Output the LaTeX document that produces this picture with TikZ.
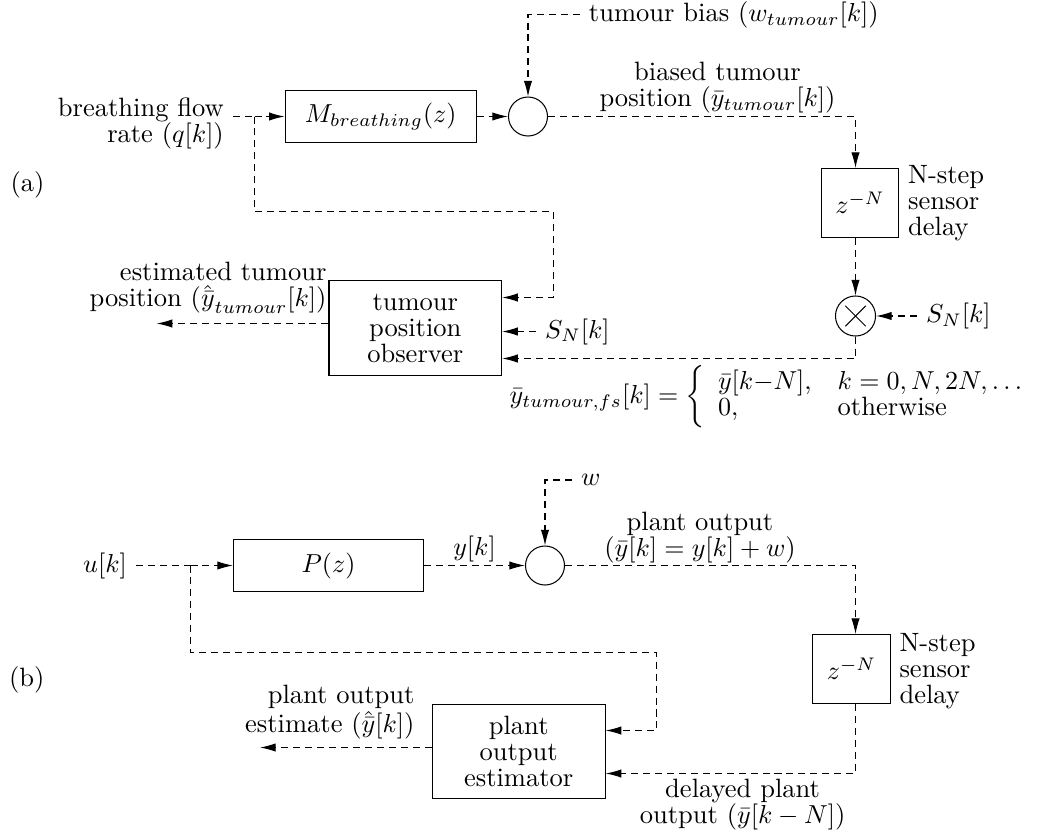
\documentclass[tikz,border=0pt]{standalone}
\usetikzlibrary{arrows.meta,calc}
\begin{document}
\begin{tikzpicture}[x=0.3846pt,y=-0.3846pt,
  every node/.style={font=\fontsize{10.2}{10}\selectfont},
  blk/.style={draw,line width=0.4pt,inner sep=0pt,align=center},
  sumnode/.style={draw,circle,minimum size=15pt,inner sep=0pt,line width=0.4pt},
  sig/.style={draw,dash pattern=on 2.7pt off 1.9pt,line width=0.4pt},
  arr/.style={sig,-{Latex[length=6pt,width=3.2pt]}},
  lbl/.style={inner sep=0pt,align=center},
]
\useasboundingbox (0,0) rectangle (1044,838);

% ---------------- (a) breathing-driven tumour motion ----------------
\node[blk,minimum width=73.5pt,minimum height=20pt] (M) at (380.7,116.5) {$M_{breathing}(z)$};
\node[sumnode] (sumA) at (528,116.5) {};
\node[blk,minimum width=29.7pt,minimum height=26.5pt] (zA) at (860,203) {$z^{-N}$};
\node[sumnode,minimum size=15.4pt] (mult) at (855.5,316) {};
\draw ($(mult.center)!0.7!(mult.45)$) -- ($(mult.center)!0.7!(mult.225)$);
\draw ($(mult.center)!0.7!(mult.135)$) -- ($(mult.center)!0.7!(mult.315)$);
\node[blk,minimum width=66.4pt,minimum height=36.5pt] (obs) at (415.3,328.2) {tumour\\position\\observer};

\node[align=right,anchor=east] (inA) at (233,123) {breathing flow\\rate ($q[k]$)};
\node[lbl,anchor=west] (labA) at (10,185) {(a)};
\node[anchor=west] (wA) at (579.8,14.5) {tumour bias ($w_{tumour}[k]$)};
\node[lbl] (biasLab) at (717.5,87.5) {biased tumour\\position ($\bar{y}_{tumour}[k]$)};
\node[lbl,anchor=west,align=left] (dlyA) at (907.6,203.5) {N-step\\sensor\\delay};
\node[anchor=west] (snR) at (917,316) {$S_N[k]$};
\node[anchor=west] (snL) at (536,331.5) {$S_N[k]$};
\node[lbl,anchor=east,align=right] (estLabA) at (327,288) {estimated tumour\\position ($\hat{\bar{y}}_{tumour}[k]$)};
\node[lbl] (eqA) at (774,397) {$\bar{y}_{tumour,fs}[k] = \left\{\begin{array}{ll}\bar{y}[k{-}N], & k=0,N,2N,\ldots\\ 0, & \mbox{otherwise}\end{array}\right.$};

\coordinate (brA) at (254.5,116.5);
\coordinate (fbA) at (553.5,211.5);
\coordinate (fbA2) at (553.5,297.5);
\coordinate (colA) at (855.5,116.5);
\coordinate (fsA) at (855.5,358.5);
\coordinate (outA) at (156.7,323.5);

\draw[sig] (inA.east |- M.west) -- (brA);
\draw[arr] (brA) -- (M.west);
\draw[arr] (brA) |- (fbA) -- (fbA2) -- (obs.east |- fbA2);
\draw[arr] (M.east) -- (sumA.west);
\draw[arr] (wA.west) -| (sumA.north);
\draw[arr] (sumA.east) -| (zA.north -| colA);
\draw[arr] (zA.south -| colA) -- (mult.north);
\draw[arr] (snR.west) -- (mult.east);
\draw[arr] (mult.south) -- (fsA) -- (obs.east |- fsA);
\draw[arr] (snL.west) -- (obs.east |- snL.west);
\draw[arr] (obs.west |- outA) -- (outA);

% ---------------- (b) generic plant with delayed measurement ----------------
\node[blk,minimum width=73.1pt,minimum height=20.2pt] (P) at (328.5,565.5) {$P(z)$};
\node[sumnode] (sumB) at (545,565.5) {};
\node[blk,minimum width=29.7pt,minimum height=26.5pt] (zB) at (851.5,669) {$z^{-N}$};
\node[blk,minimum width=66.5pt,minimum height=36.5pt] (est) at (518.7,751.5) {plant\\output\\estimator};

\node[anchor=east] (uB) at (136.1,566) {$u[k]$};
\node[lbl,anchor=west] (labB) at (8.6,680) {(b)};
\node[anchor=west] (wB) at (572,480) {$w$};
\node[lbl] (plantLab) at (700,537.5) {plant output\\($\bar{y}[k]=y[k]+w$)};
\node[lbl,anchor=west,align=left] (dlyB) at (899,671) {N-step\\sensor\\delay};
\node[lbl,anchor=east,align=right] (estLabB) at (415,712.3) {plant output\\estimate ($\hat{\bar{y}}[k]$)};
\node[lbl] (delLab) at (742.6,805) {delayed plant\\output ($\bar{y}[k-N]$)};

\coordinate (brB) at (190.5,565.5);
\coordinate (fbB) at (656.5,652.5);
\coordinate (fbB2) at (656.5,730.5);
\coordinate (colB) at (855.5,565.5);
\coordinate (fsB) at (855.5,773.5);
\coordinate (outB) at (260,747.5);

\draw[sig] (uB.east |- P.west) -- (brB);
\draw[arr] (brB) -- (P.west);
\draw[arr] (brB) |- (fbB) -- (fbB2) -- (est.east |- fbB2);
\draw[arr] (P.east) -- node[above,inner sep=1pt] (ykLab) {$y[k]$} (sumB.west);
\draw[arr] (wB.west) -| (sumB.north);
\draw[arr] (sumB.east) -| (zB.north -| colB);
\draw[arr] (zB.south -| colB) -- (fsB) -- (est.east |- fsB);
\draw[arr] (est.west |- outB) -- (outB);
\end{tikzpicture}
\end{document}
